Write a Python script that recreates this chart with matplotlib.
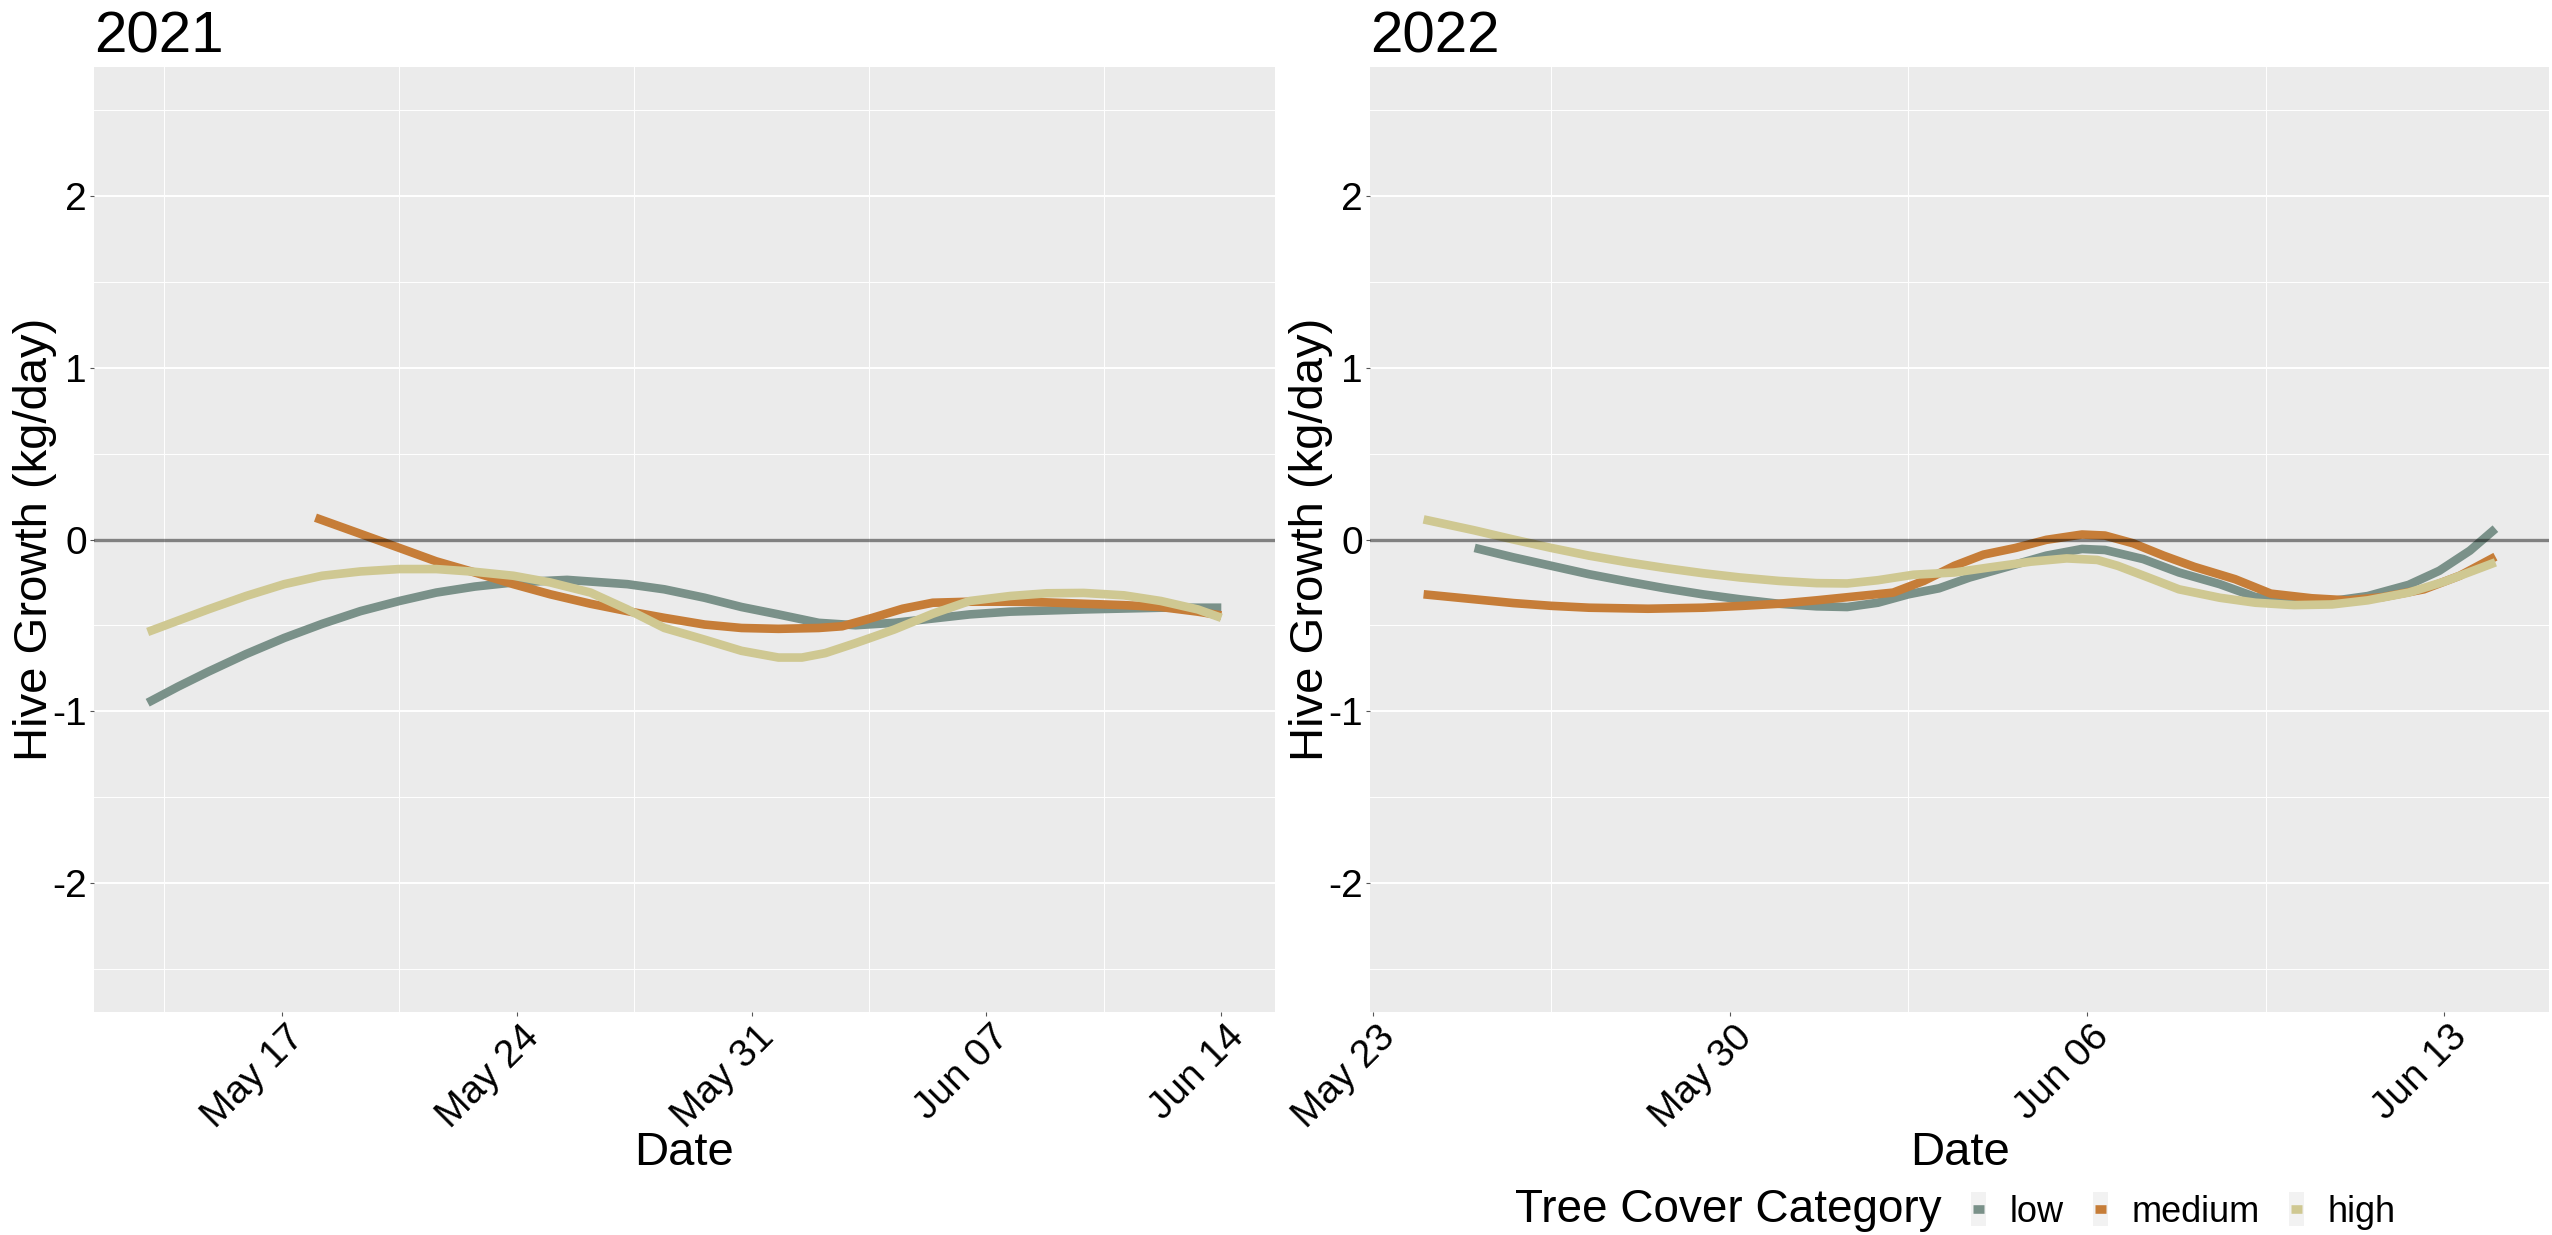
import numpy as np
import matplotlib.pyplot as plt
import matplotlib.dates as mdates
import matplotlib.transforms as mtransforms
from matplotlib.patches import Rectangle
from matplotlib.lines import Line2D

plt.rcParams['font.family'] = ['Liberation Sans', 'DejaVu Sans']
plt.rcParams['axes.unicode_minus'] = False

# smoothed hive growth (kg/day); x = days after the start date of each season
start_2021 = '2021-05-17'
low_2021_days = [-4, -3.1, -2.2, -1.07, 0.07, 1.2, 2.34, 3.5, 4.6, 5.75, 6.9, 8.5, 10.3,
                 11.4, 12.6, 13.7, 14.8, 16.0, 17.1, 18.25, 19.4, 20.5, 21.7, 23.9,
                 26.2, 28]
low_2021 = [-0.95, -0.857, -0.77, -0.667, -0.573, -0.491, -0.417, -0.358, -0.309,
            -0.274, -0.25, -0.235, -0.26, -0.29, -0.339, -0.393, -0.436, -0.485, -0.499,
            -0.485, -0.46, -0.436, -0.42, -0.407, -0.397, -0.397]
medium_2021_days = [1.0, 2.34, 3.5, 4.6, 5.75, 6.9, 8.0, 9.2, 10.3, 11.4, 12.6, 13.7,
                    14.8, 16.0, 16.7, 17.6, 18.5, 19.4, 20.5, 21.7, 22.8, 23.9, 25.1,
                    26.2, 27.3, 28]
medium_2021 = [0.127, 0.033, -0.049, -0.127, -0.192, -0.26, -0.319, -0.374, -0.417,
               -0.456, -0.495, -0.515, -0.52, -0.515, -0.505, -0.456, -0.403, -0.368,
               -0.362, -0.362, -0.366, -0.374, -0.382, -0.393, -0.42, -0.442]
high_2021_days = [-4, -2.2, -1.07, 0.07, 1.2, 2.34, 3.5, 4.6, 5.75, 6.9, 8.0, 9.2, 10.3,
                  11.4, 12.6, 13.7, 14.8, 15.5, 16.2, 17.1, 18.25, 19.4, 20.5, 21.7,
                  22.8, 23.9, 25.1, 26.2, 27.3, 28]
high_2021 = [-0.538, -0.407, -0.329, -0.26, -0.211, -0.186, -0.172, -0.172, -0.188,
             -0.211, -0.25, -0.309, -0.407, -0.515, -0.583, -0.648, -0.687, -0.687,
             -0.661, -0.603, -0.524, -0.432, -0.358, -0.329, -0.313, -0.311, -0.325,
             -0.358, -0.407, -0.456]

start_2022 = '2022-05-23'
low_2022_days = [2.0, 2.76, 3.5, 4.24, 5.0, 5.73, 6.47, 7.2, 7.96, 8.7, 9.3, 9.9, 10.5,
                 11.1, 11.7, 12.4, 13.2, 13.9, 14.35, 15.1, 15.8, 16.6, 17.3, 18.06,
                 18.8, 19.5, 20.3, 20.9, 21.5, 22.0]
low_2022 = [-0.049, -0.104, -0.153, -0.202, -0.245, -0.284, -0.319, -0.348, -0.374,
            -0.389, -0.393, -0.368, -0.319, -0.284, -0.221, -0.162, -0.094, -0.055,
            -0.061, -0.114, -0.192, -0.26, -0.335, -0.362, -0.358, -0.329, -0.264,
            -0.182, -0.065, 0.063]
medium_2022_days = [1.0, 2.0, 2.76, 3.5, 4.24, 5.4, 6.47, 7.2, 7.96, 8.7, 9.4, 10.2,
                    10.8, 11.4, 11.97, 12.6, 13.2, 13.9, 14.35, 14.9, 15.5, 16.1, 16.9,
                    17.6, 18.4, 19.1, 19.8, 20.6, 21.3, 22.0]
medium_2022 = [-0.319, -0.348, -0.37, -0.386, -0.397, -0.403, -0.397, -0.387, -0.374,
               -0.354, -0.333, -0.309, -0.241, -0.153, -0.088, -0.049, -0.002, 0.029,
               0.023, -0.022, -0.094, -0.159, -0.231, -0.315, -0.342, -0.354, -0.335,
               -0.29, -0.211, -0.1]
high_2022_days = [1.0, 2.0, 2.76, 3.5, 4.24, 5.0, 5.73, 6.47, 7.2, 7.96, 8.7, 9.3, 9.9,
                  10.6, 11.4, 12.1, 12.9, 13.6, 14.2, 14.6, 15.2, 15.8, 16.6, 17.3,
                  18.06, 18.8, 19.5, 20.3, 21.0, 22.0]
high_2022 = [0.117, 0.053, 0.0, -0.049, -0.094, -0.133, -0.166, -0.196, -0.221, -0.241,
             -0.254, -0.256, -0.237, -0.205, -0.192, -0.162, -0.129, -0.11, -0.119,
             -0.153, -0.221, -0.29, -0.339, -0.368, -0.382, -0.378, -0.354, -0.309,
             -0.245, -0.133]

ticks_2021 = ['2021-05-17', '2021-05-24', '2021-05-31', '2021-06-07', '2021-06-14']
ticks_2022 = ['2022-05-23', '2022-05-30', '2022-06-06', '2022-06-13']

categories = ['low', 'medium', 'high']
colors = {'low': '#7A9189', 'medium': '#C67D38', 'high': '#CFC892'}

seasons = [
    ('2021', start_2021, ticks_2021,
     {'low': (low_2021_days, low_2021),
      'medium': (medium_2021_days, medium_2021),
      'high': (high_2021_days, high_2021)}),
    ('2022', start_2022, ticks_2022,
     {'low': (low_2022_days, low_2022),
      'medium': (medium_2022_days, medium_2022),
      'high': (high_2022_days, high_2022)}),
]


def to_dates(start, days):
    mins = np.round(np.asarray(days) * 1440).astype('timedelta64[m]')
    return np.datetime64(start, 'm') + mins


W, H = 2552, 1235
fig = plt.figure(figsize=(W / 100, H / 100), dpi=100)
panels = [(94, 1275, 57), (1370, 2549, 1333)]
top, bottom = 67, 1012

for (title, start, ticks, series), (x0, x1, ylab_x) in zip(seasons, panels):
    ax = fig.add_axes([x0 / W, (H - bottom) / H, (x1 - x0) / W, (bottom - top) / H])
    ax.set_facecolor('#EBEBEB')
    for s in ax.spines.values():
        s.set_visible(False)

    for cat in categories:
        d, v = series[cat]
        ax.plot(to_dates(start, d), v, color=colors[cat], lw=6.2,
                solid_capstyle='butt', solid_joinstyle='round', zorder=3)
    ax.axhline(0, color='black', alpha=0.45, lw=2.4, zorder=4)

    # x range padded by 5% on each side
    all_days = np.concatenate([series[c][0] for c in categories])
    lo, hi = all_days.min(), all_days.max()
    pad = 0.05 * (hi - lo)
    ax.set_xlim(to_dates(start, [lo - pad])[0], to_dates(start, [hi + pad])[0])
    ax.set_ylim(-2.75, 2.75)

    tick_dates = np.array(ticks, dtype='datetime64[m]')
    ax.set_xticks(tick_dates)
    ax.xaxis.set_major_formatter(mdates.DateFormatter('%b %d'))
    ax.set_yticks([-2, -1, 0, 1, 2])
    ax.set_yticklabels(['-2', '-1', '0', '1', '2'])

    # grid: horizontal majors, half-unit minors, vertical lines mid-week only
    for y in [-2, -1, 1, 2]:
        ax.axhline(y, color='white', lw=1.4, zorder=1)
    for y in [-2.5, -1.5, -0.5, 0.5, 1.5, 2.5]:
        ax.axhline(y, color='white', lw=0.7, zorder=1)
    xl = ax.get_xlim()
    for t in tick_dates:
        for m in (t - np.timedelta64(84, 'h'), t + np.timedelta64(84, 'h')):
            xm = mdates.date2num(m)
            if xl[0] < xm < xl[1]:
                ax.axvline(m, color='white', lw=0.7, zorder=1)

    ax.tick_params(axis='both', length=3, width=0.8, color='#555555',
                   labelsize=28, labelcolor='black', pad=2)
    shift = mtransforms.ScaledTranslation(4 / 100, 0, fig.dpi_scale_trans)
    for lab in ax.get_xticklabels():
        lab.set_rotation(45)
        lab.set_ha('right')
        lab.set_va('top')
        lab.set_rotation_mode('anchor')
        lab.set_transform(lab.get_transform() + shift)

    ax.set_title(title, loc='left', fontsize=42, pad=10.5)
    ax.set_ylabel('Hive Growth (kg/day)', fontsize=34)
    ax.yaxis.set_label_coords((ylab_x - x0) / (x1 - x0), 0.5)
    ax.set_xlabel('Date', fontsize=34)
    ax.xaxis.set_label_coords(0.5, (bottom - 1131) / (bottom - top))

# legend along the bottom, centred under the 2022 panel
renderer = fig.canvas.get_renderer()
base_y = (H - 1222) / H
t = fig.text(1515 / W, base_y, 'Tree Cover Category', fontsize=33, va='baseline')
x_px = t.get_window_extent(renderer).x1
key_cy = H - 1209
for cat in categories:
    kx = x_px + 29
    fig.add_artist(Rectangle((kx / W, (key_cy - 17) / H), 15 / W, 34 / H,
                             transform=fig.transFigure, facecolor='#F2F2F2',
                             edgecolor='none'))
    fig.add_artist(Line2D([(kx + 2) / W, (kx + 13) / W], [key_cy / H, key_cy / H],
                          transform=fig.transFigure, color=colors[cat], lw=6.2,
                          solid_capstyle='butt'))
    lt = fig.text((kx + 39) / W, base_y, cat, fontsize=26, va='baseline')
    x_px = lt.get_window_extent(renderer).x1

fig.savefig('out.png', dpi=100)
